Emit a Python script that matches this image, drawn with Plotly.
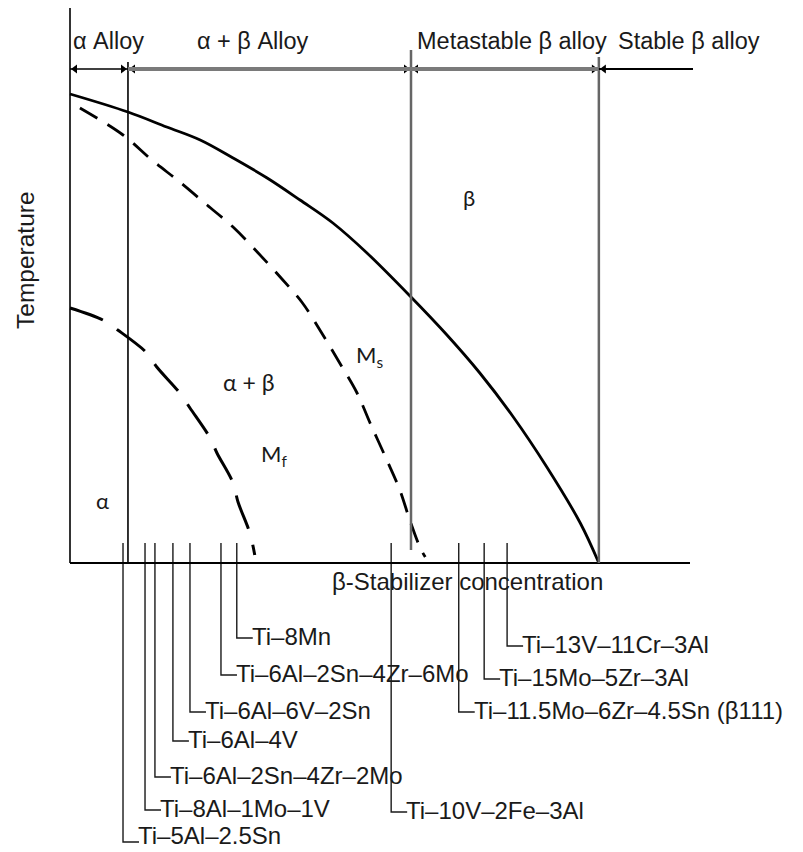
import plotly.graph_objects as go

W, H = 803, 852
# calibration of the schematic's arbitrary units onto the page
PX0, PX_PER_X = 70, 6.2      # concentration 0 at left axis
PY0, PX_PER_Y = 563, 5.0     # temperature 0 at bottom axis

def y_of_px(py):
    return (PY0 - py) / PX_PER_Y

def dx_of_px(p):
    return p / PX_PER_X

# ---------------- data (arbitrary schematic units) ----------------
transus_x = [0, 9.35, 15.6, 21.0, 26.3, 31.8, 37.1, 42.4, 47.9, 55.0, 60.8, 66.1, 71.5, 76.9, 82.3, 85.3]
transus_y = [93.8, 90.2, 87.2, 84.6, 81.0, 77.0, 72.6, 68.0, 62.0, 53.2, 45.6, 38.0, 29.2, 19.2, 8.0, 0.0]

ms_x = [1.6, 8.55, 13.2, 17.7, 22.1, 26.3, 30.2, 33.9, 37.5, 40.6, 43.5, 46.3, 48.4, 51.1, 53.2, 54.8, 56.5, 57.3]
ms_y = [91.0, 85.6, 80.6, 76.2, 71.6, 67.2, 62.2, 57.2, 52.0, 46.0, 40.0, 34.0, 28.0, 20.6, 14.6, 8.6, 3.0, 1.2]

mf_x = [0, 5.3, 7.7, 12.4, 14.0, 17.7, 19.35, 22.6, 23.7, 26.3, 27.1, 29.0, 29.8]
mf_y = [51.0, 48.6, 46.6, 42.0, 39.2, 34.0, 31.0, 25.0, 22.0, 16.0, 12.2, 6.0, 1.6]

alpha_limit = 9.35     # alpha / alpha+beta border
beta_c = 55.0          # metastable beta border
beta_s = 85.3          # stable beta border
conc_max = 100.0
temp_max = 111.0

class_labels = ["α Alloy", "α + β Alloy", "Metastable β alloy", "Stable β alloy"]

alloys_low = ["Ti–5Al–2.5Sn", "Ti–8Al–1Mo–1V", "Ti–6Al–2Sn–4Zr–2Mo", "Ti–6Al–4V",
              "Ti–6Al–6V–2Sn", "Ti–6Al–2Sn–4Zr–6Mo", "Ti–8Mn"]
alloys_low_conc = [8.55, 12.1, 13.7, 16.6, 19.35, 24.35, 26.9]
alloys_high = ["Ti–10V–2Fe–3Al", "Ti–11.5Mo–6Zr–4.5Sn (β111)", "Ti–15Mo–5Zr–3Al",
               "Ti–13V–11Cr–3Al"]
alloys_high_conc = [51.8, 62.7, 66.8, 70.5]

# ---------------- layout constants ----------------
LOW_ROW_PX = [842, 810, 777, 741, 712, 675, 638]
HIGH_ROW_PX = [812, 712, 679, 646]
TICK_TOP = y_of_px(543)
CONN = dx_of_px(16)
FONT = "Liberation Sans, Arial, sans-serif"
INK = "#1a1a1a"
LABEL_SIZE = 24

fig = go.Figure()

# curves
fig.add_trace(go.Scatter(x=transus_x, y=transus_y, mode="lines", line_shape="spline",
                         line=dict(color="black", width=2.8), hoverinfo="skip"))
fig.add_trace(go.Scatter(x=ms_x, y=ms_y, mode="lines", line_shape="spline",
                         line=dict(color="black", width=2.8, dash="20px,12px"), hoverinfo="skip"))
fig.add_trace(go.Scatter(x=mf_x, y=mf_y, mode="lines", line_shape="spline",
                         line=dict(color="black", width=3, dash="35px,17px"), hoverinfo="skip"))

shapes = []
def seg(x0, y0, x1, y1, color="black", width=1.5):
    shapes.append(dict(type="line", xref="x", yref="y", x0=x0, y0=y0, x1=x1, y1=y1,
                       line=dict(color=color, width=width)))

# axes of the diagram
seg(0, 0, 0, temp_max, width=1.6)
seg(0, 0, conc_max, 0, width=2)
# class borders
seg(alpha_limit, 0, alpha_limit, y_of_px(62), width=1.6)
seg(beta_c, y_of_px(550), beta_c, y_of_px(50), color="#666", width=2.5)
seg(beta_s, 0, beta_s, y_of_px(57), color="#666", width=2.5)

# top classification bar
ybar = y_of_px(69)
seg(0, ybar, alpha_limit, ybar, width=1.5)
seg(alpha_limit, ybar, beta_c, ybar, color="#7a7a7a", width=4)
seg(beta_c, ybar, beta_s, ybar, color="#7a7a7a", width=4)
seg(beta_s, ybar, dx_of_px(693 - PX0), ybar, width=2)

# arrowheads on the classification bar
off = dx_of_px(5)
left_tips = [0, alpha_limit, beta_c, beta_s]
right_tips = [alpha_limit, beta_c, beta_s]
fig.add_trace(go.Scatter(x=[t + off for t in left_tips], y=[ybar] * len(left_tips), mode="markers",
                         marker=dict(symbol="triangle-left", size=8, color="black"), hoverinfo="skip"))
fig.add_trace(go.Scatter(x=[t - off for t in right_tips], y=[ybar] * len(right_tips), mode="markers",
                         marker=dict(symbol="triangle-right", size=8, color="black"), hoverinfo="skip"))

ann = []
def text(x, y, s, size=23, xanchor="left", font=FONT, angle=0):
    ann.append(dict(x=x, y=y, xref="x", yref="y", text=s, showarrow=False,
                    xanchor=xanchor, yanchor="middle", textangle=angle, borderpad=0,
                    font=dict(family=font, size=size, color=INK)))

ytop = y_of_px(41)
class_x_px = [72, 196, 416, 617]
for lab, px in zip(class_labels, class_x_px):
    text(dx_of_px(px - PX0), ytop, lab, size=23.5)

# alloy markers and labels
max_center_px = H - LABEL_SIZE * 0.7
for names, concs, rows in [(alloys_low, alloys_low_conc, LOW_ROW_PX),
                           (alloys_high, alloys_high_conc, HIGH_ROW_PX)]:
    for n, c, r in zip(names, concs, rows):
        yr = y_of_px(r)
        fig.add_trace(go.Scatter(x=[c, c, c + CONN], y=[TICK_TOP, yr, yr], mode="lines",
                                 line=dict(color=INK, width=1.4), hoverinfo="skip"))
        text(c + CONN - dx_of_px(2), y_of_px(min(r - 2, max_center_px)), n, size=LABEL_SIZE)

# axis titles
text(dx_of_px(467 - PX0), y_of_px(581), "β-Stabilizer concentration", size=24, xanchor="center")
text(dx_of_px(25 - PX0), y_of_px(260), "Temperature", size=24.5, xanchor="center", angle=-90)

# region labels
RF = "Lato, Open Sans, sans-serif"
text(dx_of_px(249 - PX0), y_of_px(382), "α + β", size=23, xanchor="center", font=RF)
text(dx_of_px(469 - PX0), y_of_px(197), "β", size=22, xanchor="center", font=RF)
text(dx_of_px(355 - PX0), y_of_px(356), "M<sub>s</sub>", size=22, font=RF)
text(dx_of_px(260 - PX0), y_of_px(455), "M<sub>f</sub>", size=22, font=RF)
text(dx_of_px(102 - PX0), y_of_px(500), "α", size=22, xanchor="center", font=RF)

fig.update_layout(
    width=W, height=H, margin=dict(l=0, r=0, t=0, b=0),
    paper_bgcolor="white", plot_bgcolor="white", showlegend=False,
    xaxis=dict(range=[-PX0 / PX_PER_X, (W - PX0) / PX_PER_X], visible=False, domain=[0, 1]),
    yaxis=dict(range=[-(H - PY0) / PX_PER_Y, PY0 / PX_PER_Y], visible=False, domain=[0, 1]),
    shapes=shapes, annotations=ann,
)
fig.write_html("out.html")
